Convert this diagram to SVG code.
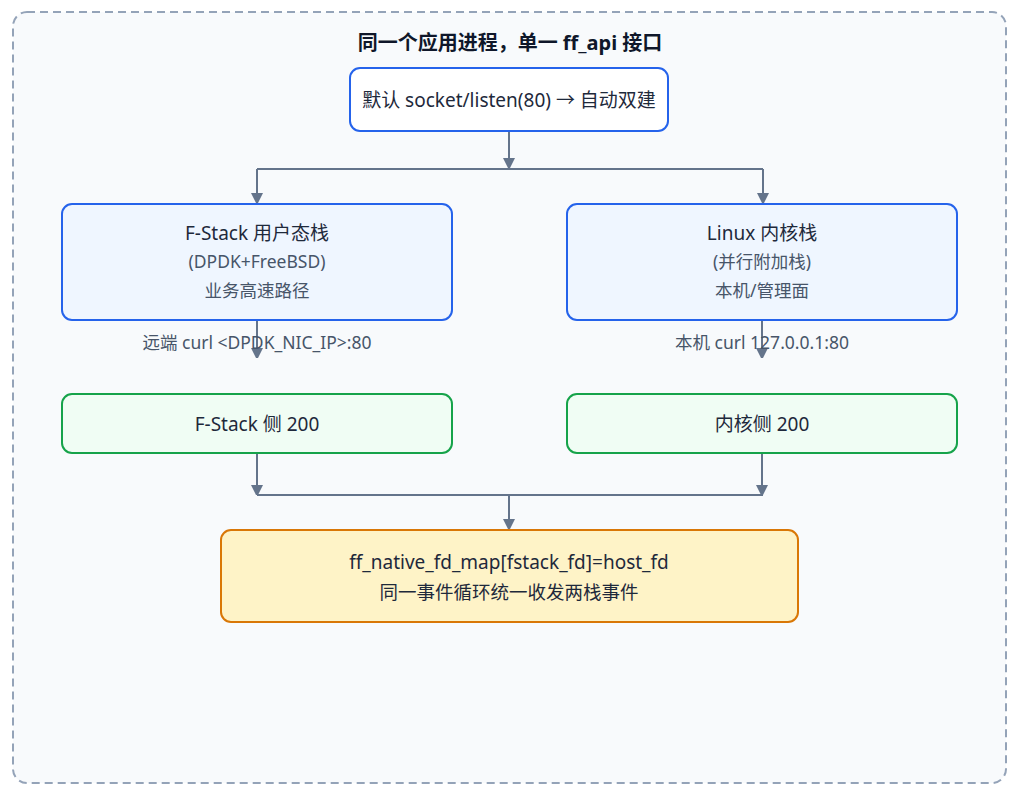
<svg xmlns="http://www.w3.org/2000/svg" width="1024" height="795" viewBox="0 0 1024 795">
<style>
text{font-family:"Noto Sans","Noto Sans CJK SC",sans-serif;text-anchor:middle;fill:#1e293b}
.t{font-size:20px;font-weight:bold;fill:#0f172a}
.m{font-size:19px}
.s{font-size:17.5px;fill:#475569}
.lbl{font-size:17.5px;fill:#475569}
.blue{fill:#eff6ff;stroke:#2563eb;stroke-width:2}
.green{fill:#f0fdf4;stroke:#16a34a;stroke-width:2}
.orange{fill:#fef3c7;stroke:#d97706;stroke-width:2}
.edge{fill:none;stroke:#64748b;stroke-width:2}
</style>
<defs>
<marker id="ah" markerWidth="10" markerHeight="12" refX="10" refY="6" orient="auto" markerUnits="userSpaceOnUse">
<path d="M0,0 L12,6 L0,12 z" fill="#64748b"/>
</marker>
</defs>
<rect x="13" y="12" width="993" height="771" rx="14" fill="#f8fafc" stroke="#94a3b8" stroke-width="2" stroke-dasharray="8,5"/>
<text class="t" x="510" y="50">同一个应用进程，单一 ff_api 接口</text>
<g id="connectors">
<path class="edge" d="M509,131 V168" marker-end="url(#ah)"/>
<path class="edge" d="M257,169 H763"/>
<path class="edge" d="M257,169 V203" marker-end="url(#ah)"/>
<path class="edge" d="M763,169 V203" marker-end="url(#ah)"/>
<path class="edge" d="M257,320 V358" marker-end="url(#ah)"/>
<path class="edge" d="M762,320 V358" marker-end="url(#ah)"/>
<path class="edge" d="M257,453 V495" marker-end="url(#ah)"/>
<path class="edge" d="M762,453 V495" marker-end="url(#ah)"/>
<path class="edge" d="M257,495 H763"/>
<path class="edge" d="M509,495 V529" marker-end="url(#ah)"/>
<text class="lbl" x="257" y="349">远端 curl &lt;DPDK_NIC_IP&gt;:80</text>
<text class="lbl" x="762" y="349">本机 curl 127.0.0.1:80</text>
</g>
<g id="n-top">
<rect x="350" y="68" width="318" height="63" rx="10" fill="#ffffff" stroke="#2563eb" stroke-width="2"/>
<text class="m" x="509" y="107">默认 socket/listen(80) → 自动双建</text>
</g>
<g id="n-fstack">
<rect class="blue" x="62" y="204" width="390" height="116" rx="10"/>
<text class="m" x="257" y="240">F-Stack 用户态栈</text>
<text class="s" x="257" y="268">(DPDK+FreeBSD)</text>
<text class="s" x="257" y="297">业务高速路径</text>
</g>
<g id="n-linux">
<rect class="blue" x="567" y="204" width="390" height="116" rx="10"/>
<text class="m" x="762" y="240">Linux 内核栈</text>
<text class="s" x="762" y="268">(并行附加栈)</text>
<text class="s" x="762" y="297">本机/管理面</text>
</g>
<g id="n-fs200">
<rect class="green" x="62" y="394" width="390" height="59" rx="10"/>
<text class="m" x="257" y="431">F-Stack 侧 200</text>
</g>
<g id="n-k200">
<rect class="green" x="567" y="394" width="390" height="59" rx="10"/>
<text class="m" x="762" y="431">内核侧 200</text>
</g>
<g id="n-map">
<rect class="orange" x="221" y="530" width="577" height="92" rx="10"/>
<text class="m" x="509" y="569">ff_native_fd_map[fstack_fd]=host_fd</text>
<text class="m" x="509" y="599" style="font-size:18.5px">同一事件循环统一收发两栈事件</text>
</g>
</svg>
